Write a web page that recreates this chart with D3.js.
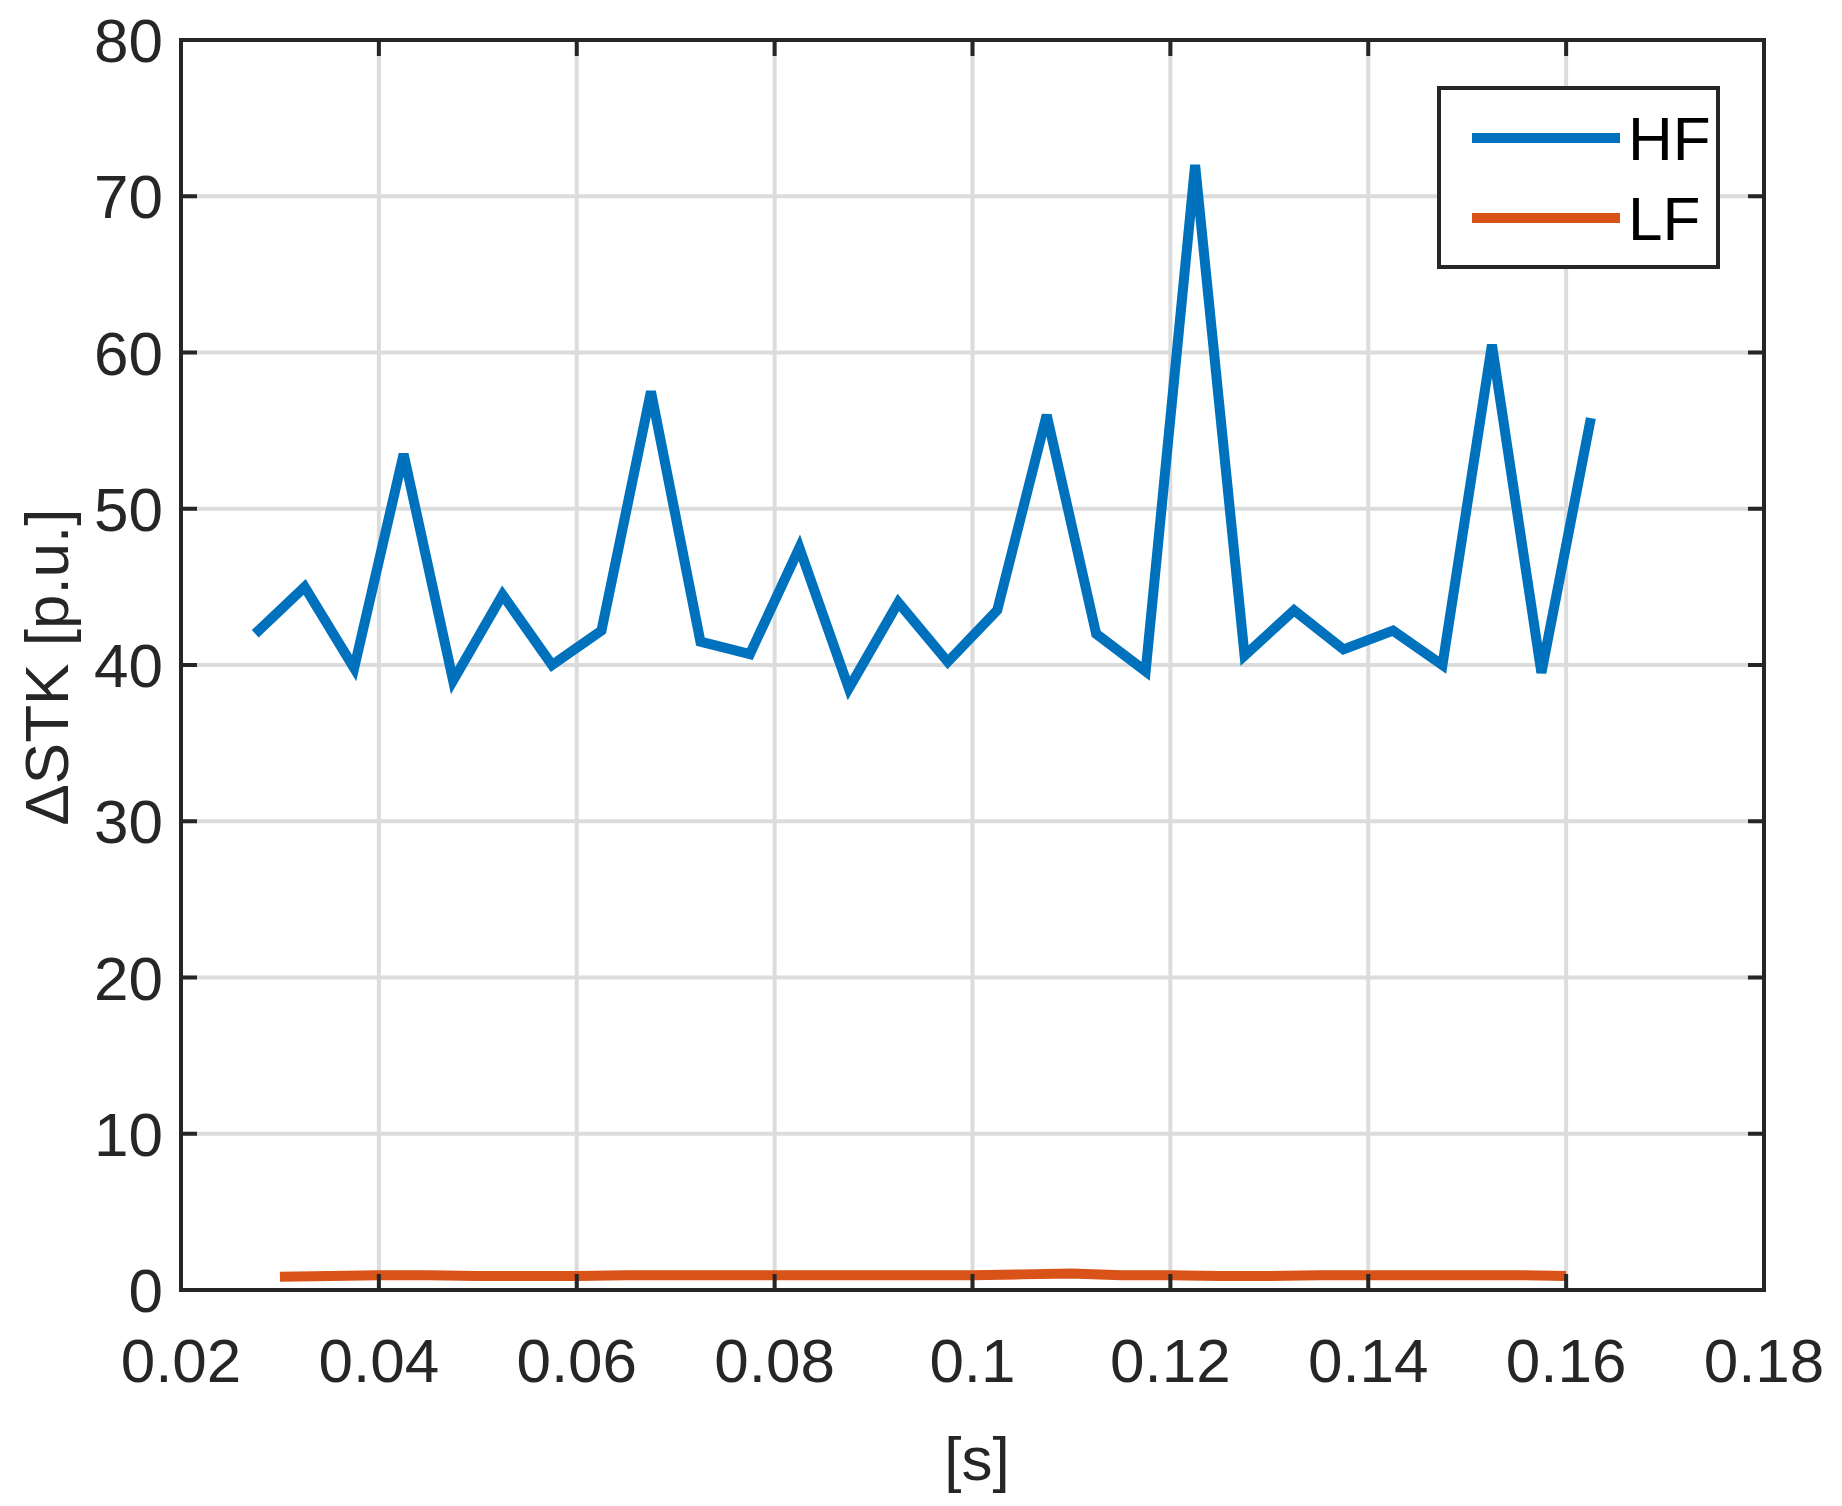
<!DOCTYPE html><html><head><meta charset="utf-8"><script src="https://cdn.jsdelivr.net/npm/d3@7"></script>
<style>body{margin:0;background:#fff}</style></head><body><svg id="c" width="1842" height="1506"></svg><script>
const hfX=d3.range(28).map(i=>+(0.0275+i*0.005).toFixed(4));
const hfY=[42,45,39.8,53.5,39,44.5,40,42.2,57.5,41.5,40.7,47.5,38.5,44,40.2,43.5,56,42,39.6,72,40.6,43.5,41,42.2,40,60.5,39.5,55.8];
const lfX=d3.range(27).map(i=>+(0.03+i*0.005).toFixed(4));
const lfY=[0.85,0.9,0.95,0.95,0.9,0.9,0.9,0.95,0.95,0.95,0.95,0.95,0.95,0.95,0.95,1.0,1.05,0.95,0.95,0.9,0.9,0.95,0.95,0.95,0.95,0.95,0.9];
const xTicks=[0.02,0.04,0.06,0.08,0.1,0.12,0.14,0.16,0.18];
const yTicks=[0,10,20,30,40,50,60,70,80];
const L=181,R=1764,T=40,B=1290;
const x=d3.scaleLinear().domain([0.02,0.18]).range([L,R]);
const y=d3.scaleLinear().domain([0,80]).range([B,T]);
const svg=d3.select('#c');const ink='#262626';const font='Liberation Sans, Arial, sans-serif';
svg.append('g').selectAll('line').data(xTicks.slice(1,-1)).join('line').attr('x1',d=>x(d)).attr('x2',d=>x(d)).attr('y1',T).attr('y2',B).attr('stroke','#dcdcdc').attr('stroke-width',4);
svg.append('g').selectAll('line').data(yTicks.slice(1,-1)).join('line').attr('y1',d=>y(d)).attr('y2',d=>y(d)).attr('x1',L).attr('x2',R).attr('stroke','#dcdcdc').attr('stroke-width',4);
const ln=d3.line().x(d=>x(d[0])).y(d=>y(d[1]));
svg.append('path').attr('d',ln(hfX.map((v,i)=>[v,hfY[i]]))).attr('fill','none').attr('stroke','#0072BD').attr('stroke-width',10);
svg.append('path').attr('d',ln(lfX.map((v,i)=>[v,lfY[i]]))).attr('fill','none').attr('stroke','#D95319').attr('stroke-width',10);
const ax=svg.append('g').attr('font-family',font).attr('font-size',62).attr('fill',ink);
const tk=16;
xTicks.forEach(d=>{ax.append('line').attr('x1',x(d)).attr('x2',x(d)).attr('y1',B).attr('y2',B-tk).attr('stroke',ink).attr('stroke-width',4);
ax.append('line').attr('x1',x(d)).attr('x2',x(d)).attr('y1',T).attr('y2',T+tk).attr('stroke',ink).attr('stroke-width',4);
ax.append('text').attr('x',x(d)).attr('y',B+92).attr('text-anchor','middle').text(d3.format('~g')(d));});
yTicks.forEach(d=>{ax.append('line').attr('y1',y(d)).attr('y2',y(d)).attr('x1',L).attr('x2',L+tk).attr('stroke',ink).attr('stroke-width',4);
ax.append('line').attr('y1',y(d)).attr('y2',y(d)).attr('x1',R).attr('x2',R-tk).attr('stroke',ink).attr('stroke-width',4);
ax.append('text').attr('x',L-18).attr('y',y(d)+22).attr('text-anchor','end').text(d);});
svg.append('rect').attr('x',L).attr('y',T).attr('width',R-L).attr('height',B-T).attr('fill','none').attr('stroke',ink).attr('stroke-width',4);
ax.append('text').attr('x',977).attr('y',1480).attr('text-anchor','middle').text('[s]');
ax.append('text').attr('transform','translate(68,667) rotate(-90)').attr('text-anchor','middle').text('ΔSTK [p.u.]');
const lg=svg.append('g');
lg.append('rect').attr('x',1439).attr('y',88).attr('width',279).attr('height',179).attr('fill','#fff').attr('stroke',ink).attr('stroke-width',4);
[['HF','#0072BD',138],['LF','#D95319',218]].forEach(([t,c,yy])=>{
lg.append('line').attr('x1',1472).attr('x2',1620).attr('y1',yy).attr('y2',yy).attr('stroke',c).attr('stroke-width',10);
lg.append('text').attr('x',1628).attr('y',yy+22).attr('font-family',font).attr('font-size',62).attr('fill','#000').text(t);});
</script></body></html>
